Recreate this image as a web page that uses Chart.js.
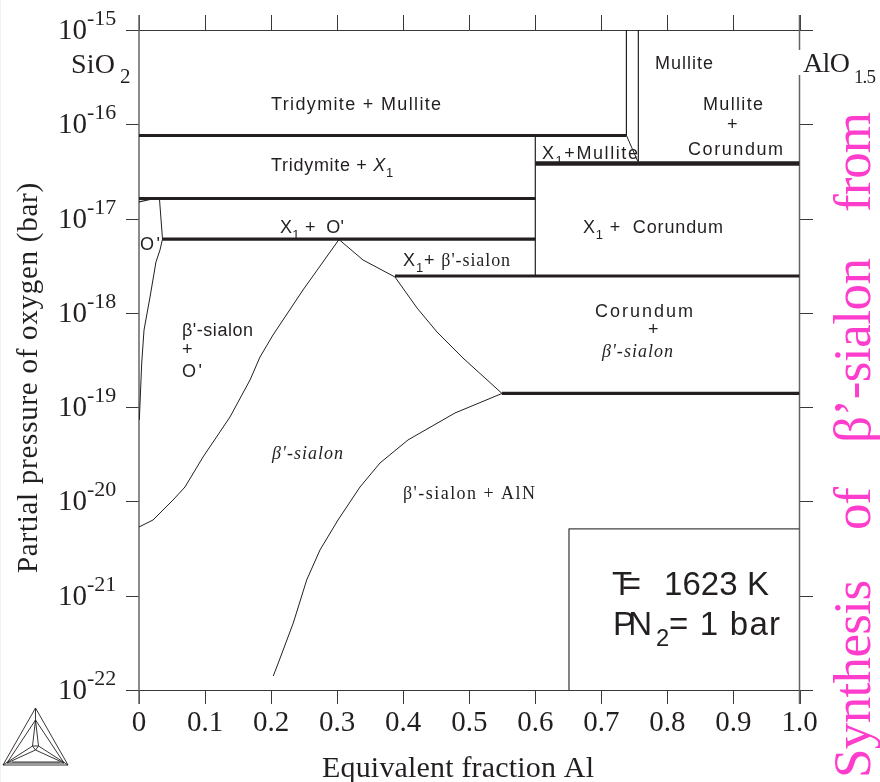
<!DOCTYPE html>
<html>
<head>
<meta charset="utf-8">
<title>Partial pressure of oxygen vs equivalent fraction Al</title>
<script src="https://cdn.jsdelivr.net/npm/chart.js@4"></script>
<style>
  html, body { margin: 0; padding: 0; background: #fff; }
  canvas { display: block; }
</style>
</head>
<body>
<canvas id="viz" width="880" height="782"></canvas>
<script>
// Axis ticks
const xTicks = [0, 0.1, 0.2, 0.3, 0.4, 0.5, 0.6, 0.7, 0.8, 0.9, 1.0];
const xTickLabels = ['0', '0.1', '0.2', '0.3', '0.4', '0.5', '0.6', '0.7', '0.8', '0.9', '1.0'];
const yExponents = [-15, -16, -17, -18, -19, -20, -21, -22];

// Phase boundaries: x = equivalent fraction Al, logP = log10 of pressure (bar)
const tieTridymiteX = [0, 0.738];           const tieTridymiteLogP = [-16.119, -16.119];
const tieX1X = [0, 0.60];                   const tieX1LogP = [-16.787, -16.787];
const tieO2X = [0.0356, 0.60];              const tieO2LogP = [-17.217, -17.217];
const tieCorundumX = [0.60, 1.0];           const tieCorundumLogP = [-16.416, -16.416];
const tieSialonX = [0.3876, 1.0];           const tieSialonLogP = [-17.609, -17.609];
const tieAlnX = [0.5496, 1.0];              const tieAlnLogP = [-18.855, -18.855];

const wallX1X = [0.60, 0.60];               const wallX1LogP = [-16.119, -17.609];
const wallMulliteAX = [0.738, 0.738, 0.755]; const wallMulliteALogP = [-15, -16.119, -16.39];
const wallMulliteBX = [0.756, 0.756];       const wallMulliteBLogP = [-15, -16.416];

const oPrimeTopX = [0, 0.0167, 0.031];      const oPrimeTopLogP = [-16.824, -16.798, -16.792];
const oPrimeX = [0.031, 0.0356, 0.0318, 0.0257, 0.0167, 0.0076, 0.0041, 0.0005];
const oPrimeLogP = [-16.792, -17.217, -17.333, -17.46, -17.832, -18.182, -18.532, -19.136];

const sialonLeftX = [0.3028, 0.2483, 0.2029, 0.1832, 0.1681, 0.1378, 0.0969, 0.0696, 0.0515, 0.0212, 0];
const sialonLeftLogP = [-17.222, -17.757, -18.235, -18.468, -18.712, -19.104, -19.529, -19.847, -19.985, -20.197, -20.271];
const sialonTopX = [0.3028, 0.3391, 0.3876];
const sialonTopLogP = [-17.222, -17.439, -17.62];
const sialonRightX = [0.3876, 0.4209, 0.4512, 0.4905, 0.5496];
const sialonRightLogP = [-17.62, -17.948, -18.203, -18.479, -18.855];
const alnX = [0.5496, 0.4784, 0.4073, 0.3649, 0.3346, 0.3013, 0.274, 0.2539, 0.2336, 0.2109, 0.2033];
const alnLogP = [-18.855, -19.062, -19.348, -19.592, -19.847, -20.197, -20.515, -20.833, -21.289, -21.713, -21.851];

const noteBoxX = [0.651, 0.651, 1.0];
const noteBoxLogP = [-22, -20.292, -20.292];

const INK = '#231f20';
const SANS = '"Liberation Sans"';
const SERIF = '"Liberation Serif"';

// Helpers
const line = (xs, logs, width, color) => ({
  data: xs.map((x, i) => ({ x, y: Math.pow(10, logs[i]) })),
  showLine: true,
  pointRadius: 0,
  borderWidth: width,
  borderColor: color || INK,
  borderCapStyle: 'butt',
  borderJoinStyle: 'round',
  tension: 0
});
const sans = (t) => ({ t, f: SANS });
const serif = (t) => ({ t, f: SERIF });
const ital = (t) => ({ t, f: SERIF, i: true });
const sub = (t) => ({ t, f: SANS, sub: true });

// Region labels, anchored in data coordinates
const regionLabels = [
  { x: 0.200, lp: -15.848, w: 170, runs: [sans('Tridymite + Mullite')] },
  { x: 0.200, lp: -16.495, w: 122, runs: [sans('Tridymite + '), { t: 'X', f: SANS, i: true }, sub('1')] },
  { x: 0.2135, lp: -17.153, w: 64, runs: [sans('X'), sub('1'), sans(' +  O\'')] },
  { x: 0.3997, lp: -17.503, w: 107, runs: [sans('X'), sub('1'), sans('+ '), serif('β\'-sialon')] },
  { x: 0.7812, lp: -15.414, w: 58, runs: [sans('Mullite')] },
  { x: 0.8539, lp: -15.848, w: 60, runs: [sans('Mullite')] },
  { x: 0.8902, lp: -16.061, runs: [sans('+')] },
  { x: 0.8312, lp: -16.326, w: 95, runs: [sans('Corundum')] },
  { x: 0.6101, lp: -16.368, w: 96, runs: [sans('X'), sub('1'), sans('+Mullite')] },
  { x: 0.6722, lp: -17.153, w: 140, runs: [sans('X'), sub('1'), sans(' +  Corundum')] },
  { x: 0.6904, lp: -18.044, w: 98, runs: [sans('Corundum')] },
  { x: 0.7706, lp: -18.235, runs: [sans('+')] },
  { x: 0.701, lp: -18.468, w: 71, runs: [ital('β\'-sialon')] },
  { x: 0.0015, lp: -17.333, w: 20, runs: [sans('O\'')] },
  { x: 0.0651, lp: -18.245, w: 71, runs: [sans('β\'-sialon')] },
  { x: 0.0651, lp: -18.447, runs: [sans('+')] },
  { x: 0.0651, lp: -18.68, w: 20, runs: [sans('O\'')] },
  { x: 0.2014, lp: -19.55, w: 71, runs: [ital('β\'-sialon')] },
  { x: 0.3997, lp: -19.974, w: 132, runs: [serif('β\'-sialon + AlN')] },
  { x: 0.7161, lp: -20.992, w: 29, size: 33, runs: [sans('T=')] },
  { x: 0.7948, lp: -20.992, w: 105, size: 33, runs: [sans('1623 K')] },
  { x: 0.7176, lp: -21.416, w: 39, size: 33, runs: [sans('PN')] },
  { x: 0.7827, lp: -21.416, size: 33, runs: [sub('2')] },
  { x: 0.8024, lp: -21.416, w: 111, size: 33, runs: [sans('= 1 bar')] }
];

// Draw a row of text runs, spread to a target width
function drawRuns(ctx, x, y, size, runs, width) {
  const fontOf = (r) => `${r.i ? 'italic ' : ''}${r.sub ? size * 0.72 : size}px ${r.f}`;
  ctx.letterSpacing = '0px';
  let natural = 0, chars = 0;
  runs.forEach((r) => {
    ctx.font = fontOf(r);
    natural += ctx.measureText(r.t).width;
    chars += r.t.length;
  });
  const gap = width && chars > 1 ? (width - natural) / (chars - 1) : 0;
  ctx.letterSpacing = gap.toFixed(2) + 'px';
  let cx = x;
  runs.forEach((r) => {
    ctx.font = fontOf(r);
    ctx.fillText(r.t, cx, r.sub ? y + size * 0.33 : y);
    cx += ctx.measureText(r.t).width;
  });
  ctx.letterSpacing = '0px';
}

// Frame, ticks and logo
const framePlugin = {
  id: 'frame',
  beforeDatasetsDraw(chart) {
    const { ctx, chartArea: a, scales: { x: xs, y: ys } } = chart;
    ctx.save();
    ctx.fillStyle = '#eef3f5';
    ctx.fillRect(0, 0, 1, 782);
    ctx.strokeStyle = '#3a3738';
    ctx.lineWidth = 1;
    const seg = (x1, y1, x2, y2) => {
      ctx.beginPath();
      ctx.moveTo(x1, y1);
      ctx.lineTo(x2, y2);
      ctx.stroke();
    };
    // top and bottom rails
    seg(126, a.top + 0.5, a.right + 13.5, a.top + 0.5);
    seg(126, a.bottom + 0.5, a.right + 13.5, a.bottom + 0.5);
    xTicks.forEach((v) => {
      const px = Math.round(xs.getPixelForValue(v)) + 0.5;
      seg(px, a.top - 15, px, a.top);
      seg(px, a.bottom, px, a.bottom + 14);
    });
    yExponents.forEach((e) => {
      const py = Math.round(ys.getPixelForValue(Math.pow(10, e))) + 0.5;
      seg(126, py, a.left, py);
      seg(a.right, py, a.right + 13.5, py);
    });
    // side rails
    ctx.strokeStyle = '#666364';
    ctx.lineWidth = 1.5;
    seg(a.left, a.top - 15, a.left, a.bottom + 14);
    seg(a.right, a.top - 15, a.right, a.bottom + 14);
    ctx.restore();
  },
  afterDraw(chart) {
    const { ctx, chartArea: a, scales: { x: xs, y: ys } } = chart;
    ctx.save();
    ctx.fillStyle = '#fff';
    ctx.fillRect(a.right - 2, 50, 4, 25);
    ctx.fillStyle = INK;
    ctx.textBaseline = 'alphabetic';

    // tick labels
    xTicks.forEach((v, i) => {
      ctx.font = `29px ${SERIF}`;
      ctx.textAlign = 'center';
      ctx.fillText(xTickLabels[i], xs.getPixelForValue(v), 731);
    });
    yExponents.forEach((e) => {
      const py = ys.getPixelForValue(Math.pow(10, e));
      ctx.textAlign = 'right';
      ctx.font = `29px ${SERIF}`;
      ctx.fillText('10', 87, py + 9);
      ctx.textAlign = 'left';
      ctx.font = `22px ${SERIF}`;
      ctx.fillText(String(e), 87, py - 5);
    });
    ctx.textAlign = 'left';

    // axis titles
    drawRuns(ctx, 322, 777, 30, [serif('Equivalent fraction Al')], 272);
    ctx.save();
    ctx.translate(37, 573);
    ctx.rotate(-Math.PI / 2);
    drawRuns(ctx, 0, 0, 29, [serif('Partial pressure of oxygen (bar)')], 390);
    ctx.restore();

    // end members
    drawRuns(ctx, 71, 73, 28, [serif('SiO')], 44);
    drawRuns(ctx, 120, 83, 21, [serif('2')]);
    drawRuns(ctx, 803, 72, 28, [serif('AlO')], 47);
    drawRuns(ctx, 854, 83, 19, [serif('1.5')], 22);

    // region labels
    regionLabels.forEach((l) => {
      drawRuns(ctx, xs.getPixelForValue(l.x), ys.getPixelForValue(Math.pow(10, l.lp)), l.size || 18, l.runs, l.w);
    });

    // pink title running up the right edge
    ctx.save();
    ctx.fillStyle = '#ff3dcc';
    ctx.translate(870, 778);
    ctx.rotate(-Math.PI / 2);
    drawRuns(ctx, 0, 0, 53, [serif('Synthesis')], 198);
    drawRuns(ctx, 248, 0, 53, [serif('of')], 43);
    drawRuns(ctx, 335, 0, 53, [serif('β’-sialon')], 185);
    drawRuns(ctx, 566, 0, 53, [serif('from')], 100);
    ctx.restore();

    // triangle logo
    ctx.strokeStyle = INK;
    ctx.lineWidth = 0.9;
    const poly = (pts, close) => {
      ctx.beginPath();
      pts.forEach((p, i) => (i ? ctx.lineTo(p[0], p[1]) : ctx.moveTo(p[0], p[1])));
      if (close) ctx.closePath();
      ctx.stroke();
    };
    poly([[35.5, 708], [3, 765], [68, 765]], true);
    poly([[35.5, 720], [7, 763], [64, 763]], true);
    poly([[12, 762], [60, 762]]);
    poly([[35.5, 708], [35.5, 720], [32.5, 746], [3, 765]]);
    poly([[35.5, 720], [38.5, 746], [68, 765]]);
    poly([[32.5, 746], [38.5, 746], [35.5, 750], [32.5, 746]]);
    poly([[35.5, 750], [7, 763]]);
    poly([[35.5, 750], [64, 763]]);
    ctx.restore();
  }
};

new Chart(document.getElementById('viz').getContext('2d'), {
  type: 'scatter',
  data: {
    datasets: [
      line(tieTridymiteX, tieTridymiteLogP, 3.2),
      line(tieX1X, tieX1LogP, 3.2),
      line(tieO2X, tieO2LogP, 3.2),
      line(tieCorundumX, tieCorundumLogP, 4.5),
      line(tieSialonX, tieSialonLogP, 3.2),
      line(tieAlnX, tieAlnLogP, 3.2),
      line(wallX1X, wallX1LogP, 1.2),
      line(wallMulliteAX, wallMulliteALogP, 1),
      line(wallMulliteBX, wallMulliteBLogP, 1.2),
      line(oPrimeTopX, oPrimeTopLogP, 1.2),
      line(oPrimeX, oPrimeLogP, 1),
      line(sialonLeftX, sialonLeftLogP, 1),
      line(sialonTopX, sialonTopLogP, 1),
      line(sialonRightX, sialonRightLogP, 1),
      line(alnX, alnLogP, 1),
      line(noteBoxX, noteBoxLogP, 1.3, '#444142')
    ]
  },
  options: {
    responsive: false,
    animation: false,
    layout: { padding: { left: 139, right: 80.5, top: 30, bottom: 92 } },
    scales: {
      x: { type: 'linear', min: 0, max: 1, display: false },
      y: { type: 'logarithmic', min: 1e-22, max: 1e-15, display: false }
    },
    plugins: { legend: { display: false }, tooltip: { enabled: false } }
  },
  plugins: [framePlugin]
});
</script>
</body>
</html>
